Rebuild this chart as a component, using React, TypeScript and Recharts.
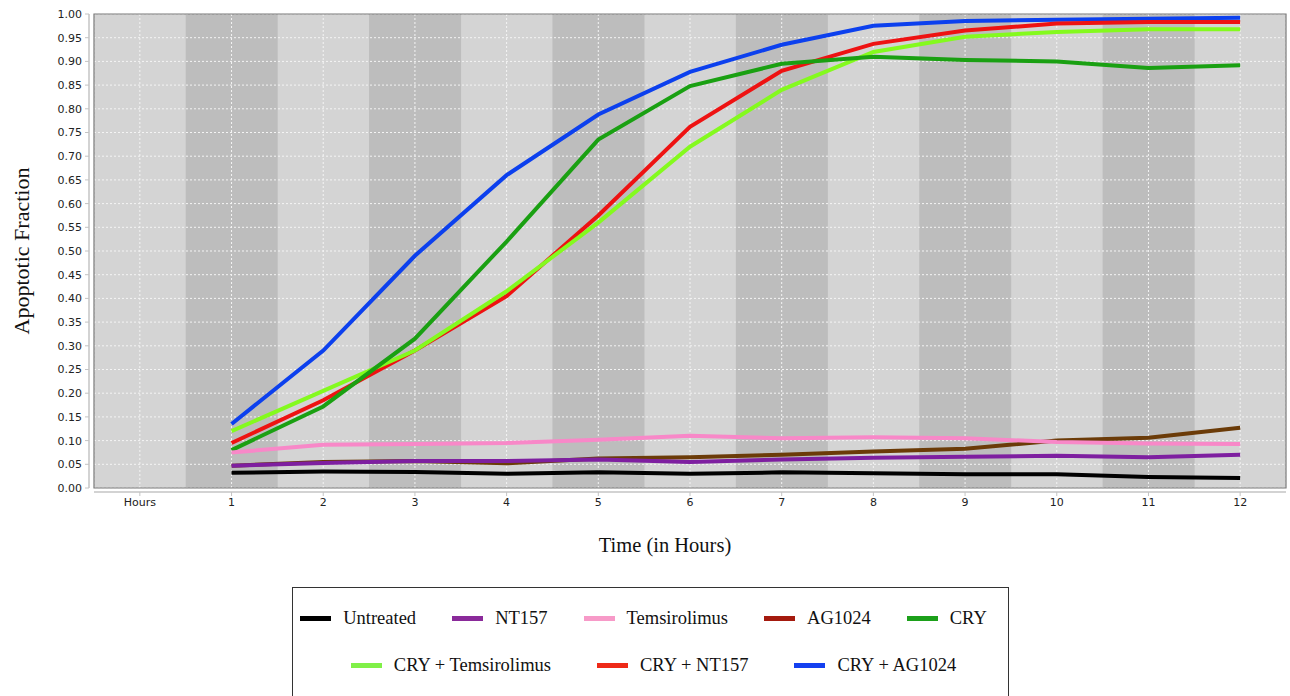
import React from 'react';
import {
  ComposedChart,
  Line,
  Bar,
  XAxis,
  YAxis,
  CartesianGrid,
  ReferenceArea,
  Legend,
} from 'recharts';

const categories = ['Hours', '1', '2', '3', '4', '5', '6', '7', '8', '9', '10', '11', '12'];

const untreated = [null, 0.032, 0.035, 0.034, 0.03, 0.033, 0.03, 0.033, 0.031, 0.029, 0.029, 0.023, 0.021];
const nt157 = [null, 0.047, 0.053, 0.057, 0.057, 0.06, 0.055, 0.06, 0.064, 0.066, 0.068, 0.065, 0.07];
const temsirolimus = [null, 0.075, 0.091, 0.093, 0.095, 0.102, 0.11, 0.105, 0.107, 0.105, 0.097, 0.094, 0.093];
const ag1024 = [null, 0.047, 0.055, 0.057, 0.052, 0.062, 0.065, 0.07, 0.077, 0.083, 0.1, 0.106, 0.127];
const cry = [null, 0.08, 0.172, 0.315, 0.52, 0.735, 0.848, 0.895, 0.91, 0.903, 0.9, 0.886, 0.892];
const cryTem = [null, 0.12, 0.205, 0.29, 0.415, 0.56, 0.72, 0.84, 0.92, 0.952, 0.962, 0.968, 0.968];
const cryNt = [null, 0.095, 0.185, 0.29, 0.405, 0.575, 0.762, 0.88, 0.937, 0.965, 0.98, 0.983, 0.983];
const cryAg = [null, 0.135, 0.29, 0.49, 0.66, 0.788, 0.878, 0.935, 0.975, 0.985, 0.988, 0.99, 0.992];

const yTicks = [0, 0.05, 0.1, 0.15, 0.2, 0.25, 0.3, 0.35, 0.4, 0.45, 0.5, 0.55, 0.6, 0.65, 0.7, 0.75, 0.8, 0.85, 0.9, 0.95, 1.0];

const series = [
  { key: 'untreated', name: 'Untreated', color: '#000000', legendColor: '#000000', values: untreated },
  { key: 'nt157', name: 'NT157', color: '#7e1fa0', legendColor: '#8a2a9a', values: nt157 },
  { key: 'tem', name: 'Temsirolimus', color: '#f888c8', legendColor: '#f79ac8', values: temsirolimus },
  { key: 'ag1024', name: 'AG1024', color: '#6b3b08', legendColor: '#a41a0e', values: ag1024 },
  { key: 'cry', name: 'CRY', color: '#1aa012', legendColor: '#1ca01a', values: cry },
  { key: 'cryTem', name: 'CRY + Temsirolimus', color: '#84fa1e', legendColor: '#80f048', values: cryTem },
  { key: 'cryNt', name: 'CRY + NT157', color: '#ee1212', legendColor: '#ee2a18', values: cryNt },
  { key: 'cryAg', name: 'CRY + AG1024', color: '#0c40ee', legendColor: '#1440f0', values: cryAg },
];

const data = categories.map((c, i) => {
  const row: Record<string, any> = { hour: c, band: i % 2 === 1 ? 1 : null };
  series.forEach((s) => {
    row[s.key] = s.values[i];
  });
  return row;
});

const tickStyle = { fontFamily: 'DejaVu Sans, sans-serif', fontSize: 11, fill: '#222' };
const serif = '"Liberation Serif", "Times New Roman", serif';

const LegendItem = ({ s }: { s: any }) => (
  <div style={{ display: 'flex', alignItems: 'center' }}>
    <div style={{ width: 31, height: 5, background: s.legendColor, marginRight: 12 }} />
    <span style={{ fontFamily: serif, fontSize: 18.5, color: '#111', whiteSpace: 'nowrap' }}>{s.name}</span>
  </div>
);

const renderLegend = () => (
  <div
    style={{
      boxSizing: 'border-box',
      width: 717,
      height: 125,
      border: '1.5px solid #333',
      background: '#fff',
    }}
  >
    <div style={{ display: 'flex', justifyContent: 'center', gap: 36, marginTop: 18, height: 24, alignItems: 'center', paddingRight: 14 }}>
      {series.slice(0, 5).map((s) => (
        <LegendItem key={s.key} s={s} />
      ))}
    </div>
    <div style={{ display: 'flex', justifyContent: 'center', gap: 46, marginTop: 23, height: 24, alignItems: 'center', paddingLeft: 6 }}>
      {series.slice(5).map((s) => (
        <LegendItem key={s.key} s={s} />
      ))}
    </div>
  </div>
);

export default function App() {
  return (
    <div style={{ position: 'absolute', left: 0, top: 0, width: 1290, height: 696, background: '#fff', overflow: 'hidden' }}>
      <ComposedChart
        width={1290}
        height={696}
        data={data}
        margin={{ top: 14, right: 4, left: 0, bottom: 178 }}
        barCategoryGap={0}
        barGap={0}
      >
        <CartesianGrid yAxisId="v" fill="#d4d4d4" horizontal={false} vertical={false} stroke="none" />
        <Bar yAxisId="bg" dataKey="band" fill="#bdbdbd" isAnimationActive={false} legendType="none" />
        <CartesianGrid
          yAxisId="v"
          stroke="#f4f4f4"
          strokeDasharray="2 2"
          strokeWidth={1}
          fill="none"
          horizontalValues={yTicks}
          zIndex={350}
        />
        <ReferenceArea
          yAxisId="v"
          x1="Hours"
          x2="12"
          y1={0}
          y2={1}
          fill="none"
          stroke="#7a7a7a"
          strokeWidth={1.2}
          ifOverflow="visible"
          zIndex={360}
        />
        <XAxis
          dataKey="hour"
          height={30}
          tick={tickStyle}
          tickSize={4}
          tickMargin={6}
          interval={0}
          axisLine={{ stroke: '#c4c4c4', strokeWidth: 1.5, transform: 'translate(0,4)' }}
          tickLine={{ stroke: '#c4c4c4', transform: 'translate(0,4)' }}
          label={{
            value: 'Time (in Hours)',
            position: 'bottom',
            offset: 19,
            dx: -25,
            style: { fontFamily: serif, fontSize: 20.5, fill: '#111' },
          }}
        />
        <YAxis yAxisId="bg" hide width={0} domain={[0, 1]} />
        <YAxis
          yAxisId="v"
          width={94}
          domain={[0, 1]}
          ticks={yTicks}
          interval={0}
          tick={tickStyle}
          tickFormatter={(v: number) => v.toFixed(2)}
          tickSize={4}
          tickMargin={8}
          axisLine={{ stroke: '#c4c4c4', strokeWidth: 1.5, transform: 'translate(-5,0)' }}
          tickLine={{ stroke: '#c4c4c4', transform: 'translate(-5,0)' }}
          label={{
            value: 'Apoptotic Fraction',
            angle: -90,
            position: 'insideLeft',
            offset: 21,
            style: { fontFamily: serif, fontSize: 22, fill: '#111', textAnchor: 'middle' },
          }}
        />
        {[...series].reverse().map((s) => (
          <Line
            key={s.key}
            yAxisId="v"
            type="linear"
            dataKey={s.key}
            name={s.name}
            stroke={s.color}
            strokeWidth={4}
            dot={false}
            activeDot={false}
            isAnimationActive={false}
          />
        ))}
        <Legend
          layout="horizontal"
          verticalAlign="middle"
          align="center"
          content={renderLegend}
          wrapperStyle={{ position: 'absolute', left: 292, top: 587, width: 717, height: 125 }}
        />
      </ComposedChart>
    </div>
  );
}
